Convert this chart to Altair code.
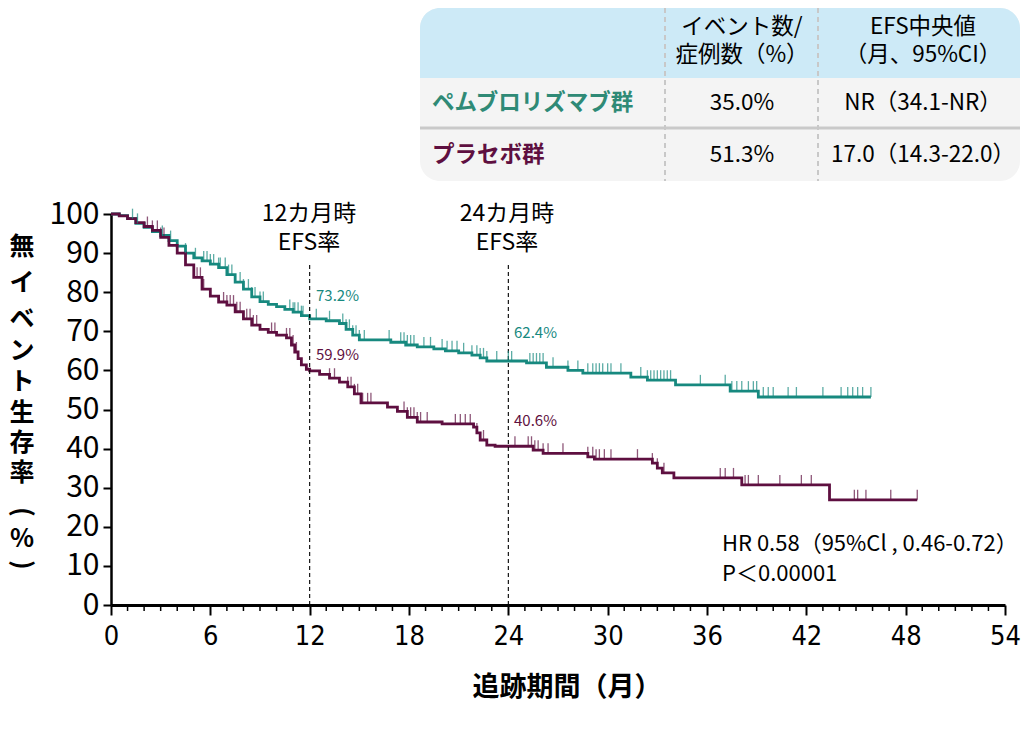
import bisect
import altair as alt
import pandas as pd

# ---------------- data ----------------
groups = ["ペムブロリズマブ群", "プラセボ群"]

pem_t = [0, 0.5, 1.0, 1.5, 2.0, 2.5, 3.0, 3.5, 4.0, 4.5, 5.0, 5.5, 6.0, 6.5, 7.0, 7.5,
         8.0, 8.5, 9.0, 9.5, 10.0, 10.5, 11.0, 11.5, 12.0, 13.0, 13.8, 14.2, 14.6, 15.0,
         16.9, 17.8, 18.5, 19.5, 20.2, 21.0, 21.8, 22.3, 22.7, 25.1, 26.3, 27.6, 28.5,
         31.4, 32.4, 34.1, 37.4, 39.1]
pem_s = [100, 99.6, 98.8, 97.6, 96.6, 95.5, 94.5, 93.2, 91.8, 90.0, 88.8, 88.0, 87.2,
         86.3, 84.5, 82.6, 80.8, 78.8, 77.6, 76.9, 76.3, 75.6, 74.9, 74.0, 73.2, 72.7,
         72.0, 70.5, 69.0, 67.8, 67.2, 66.5, 66.0, 65.5, 65.0, 64.5, 63.9, 63.2, 62.4,
         61.9, 60.8, 60.0, 59.3, 58.3, 57.5, 56.3, 54.7, 53.2]
pem_end = 45.9
pem_cens = [1.3, 1.6, 3.1, 3.6, 4.5, 5.1, 5.6, 5.8, 6.0, 6.2, 6.5, 6.6, 6.9, 7.1, 7.3,
            7.8, 8.0, 8.3, 8.5, 8.7, 9.0, 9.2, 10.8, 11.0, 11.1, 11.3, 11.5, 11.6, 12.4,
            13.2, 14.0, 14.2, 14.4, 14.6, 14.8, 15.0, 15.3, 16.8, 17.5, 17.7, 17.9, 18.1,
            18.3, 18.9, 19.3, 20.0, 20.3, 20.6, 20.9, 21.3, 21.8, 22.1, 22.3, 22.5, 22.7,
            23.3, 24.0, 24.2, 25.3, 25.5, 25.7, 25.9, 26.1, 26.7, 27.6, 28.2, 28.8, 29.1,
            29.3, 29.5, 29.7, 30.0, 30.2, 30.8, 32.0, 32.4, 32.6, 32.8, 33.0, 33.2, 33.4,
            33.6, 33.8, 35.6, 37.1, 37.5, 37.8, 38.1, 38.5, 38.8, 39.0, 39.4, 39.7, 40.0,
            40.9, 41.4, 43.0, 44.1, 44.5, 44.8, 45.1, 45.4, 45.9]

pla_t = [0, 0.5, 1.0, 1.5, 2.0, 2.5, 3.0, 3.5, 4.0, 4.5, 5.0, 5.5, 6.0, 6.5, 7.0, 7.5,
         8.0, 8.5, 9.0, 9.5, 10.0, 10.6, 10.9, 11.1, 11.3, 11.5, 11.8, 12.0, 12.6, 13.2,
         13.8, 14.3, 14.7, 15.1, 16.7, 17.3, 17.9, 18.5, 20.0, 21.9, 22.1, 22.3, 22.7,
         23.2, 25.5, 26.1, 28.8, 29.2, 32.7, 33.0, 33.3, 34.0, 38.1, 43.4]
pla_s = [100, 99.5, 98.8, 97.8, 96.8, 95.8, 94.0, 92.0, 90.0, 87.0, 83.8, 80.8, 79.0,
         77.5, 76.7, 75.0, 73.2, 71.6, 70.5, 69.7, 69.0, 68.3, 66.5, 64.7, 63.0, 61.4,
         60.3, 59.9, 59.0, 58.0, 57.0, 55.8, 54.0, 51.7, 50.6, 49.5, 48.0, 46.8, 46.3,
         45.5, 44.0, 42.2, 40.9, 40.6, 39.6, 38.8, 37.9, 37.3, 36.3, 35.0, 33.8, 32.5,
         30.7, 26.9]
pla_end = 48.7
pla_cens = [2.2, 2.5, 2.8, 3.0, 3.2, 5.2, 5.4, 5.6, 6.8, 7.0, 7.2, 7.4, 7.6, 7.8, 8.2,
            8.4, 8.6, 8.8, 9.7, 9.9, 10.6, 10.8, 11.0, 11.2, 13.2, 13.5, 14.3, 14.5, 14.7,
            14.9, 15.2, 15.5, 15.7, 17.7, 17.9, 18.1, 18.3, 18.5, 18.7, 19.1, 20.8, 21.1,
            21.4, 21.7, 22.1, 22.5, 24.4, 25.2, 25.4, 25.6, 25.8, 26.1, 26.4, 27.3, 28.8,
            29.1, 29.3, 29.5, 29.8, 30.2, 31.8, 32.7, 33.0, 33.4, 36.8, 37.1, 37.6, 38.3,
            38.5, 39.1, 40.4, 41.7, 42.3, 44.9, 45.1, 45.6, 47.1, 48.7]

landmark_t = [12, 24]
landmark_top = 87.5

x_major = [0, 6, 12, 18, 24, 30, 36, 42, 48, 54]
x_minor = [m for m in range(0, 55) if m % 6 != 0]
y_ticks = [0, 10, 20, 30, 40, 50, 60, 70, 80, 90, 100]

y_title_chars = ["無", "イ", "ベ", "ン", "ト", "生", "存", "率"]
y_title_paren = ["(", "%", ")"]
table_header = [["イベント数/", "症例数（%）"], ["EFS中央値", "（月、95%CI）"]]
table_events = ["35.0%", "51.3%"]
table_median = ["NR（34.1-NR）", "17.0（14.3-22.0）"]

# ---------------- helpers ----------------
TEAL = "#17897f"
PURPLE = "#5e0f40"
TEAL_TXT = "#2f8a76"
FONT = "Noto Sans CJK JP"
NARROW = "DejaVu Sans Condensed, Liberation Sans Narrow, Noto Sans CJK JP, sans-serif"


def step_value(ts, ss, t):
    return ss[bisect.bisect_right(ts, t) - 1]


rows = []
for g, ts, ss, end in [(groups[0], pem_t, pem_s, pem_end), (groups[1], pla_t, pla_s, pla_end)]:
    for t, s in zip(ts, ss):
        rows.append({"t": t, "s": s, "g": g})
    rows.append({"t": end, "s": ss[-1], "g": g})
curve_df = pd.DataFrame(rows)

crow = []
for g, ts, ss, cens in [(groups[0], pem_t, pem_s, pem_cens), (groups[1], pla_t, pla_s, pla_cens)]:
    for t in cens:
        crow.append({"t": t, "s": step_value(ts, ss, t), "g": g})
cens_df = pd.DataFrame(crow)

one = pd.DataFrame({"k": [0]})

xs = alt.Scale(domain=[0, 54], nice=False, zero=False)
ys = alt.Scale(domain=[0, 100], nice=False, zero=False)
col = alt.Scale(domain=groups, range=[TEAL, PURPLE])

AX = alt.Axis(
    values=x_major, title=None, grid=False, tickSize=10, tickWidth=2,
    domainWidth=2.8, domainColor="black", tickColor="black",
    labelFont=NARROW, labelFontSize=27, labelColor="black",
    labelPadding=8, labelFlush=False, labelOverlap=False)
AY = alt.Axis(
    values=y_ticks, title=None, grid=False, tickSize=8, tickWidth=2,
    domainWidth=2.5, domainColor="black", tickColor="black",
    labelFont=FONT, labelFontSize=30, labelColor="black", labelPadding=4,
    labelOverlap=False, labelBound=False, labelFlush=False)


def px(page_x):
    return page_x - 111


def py(page_y):
    return page_y - 214


def txt(text, x, y, size=20, color="black", align="center", weight="normal", font=FONT, **kw):
    return alt.Chart(one).mark_text(
        text=text, align=align, baseline="middle", fontSize=size, color=color,
        fontWeight=weight, font=font, **kw
    ).encode(x=alt.value(x), y=alt.value(y))


# ---------------- plot ----------------
lines = alt.Chart(curve_df).mark_line(interpolate="step-after", strokeWidth=2.8).encode(
    x=alt.X("t:Q", scale=xs, axis=AX),
    y=alt.Y("s:Q", scale=ys, axis=AY),
    color=alt.Color("g:N", scale=col, legend=None),
    order="t:Q",
)

ticks = alt.Chart(cens_df).mark_tick(orient="vertical", size=10, thickness=1.3, yOffset=-5).encode(
    x=alt.X("t:Q", scale=xs, axis=AX),
    y=alt.Y("s:Q", scale=ys, axis=AY),
    color=alt.Color("g:N", scale=col, legend=None),
)

minor = alt.Chart(pd.DataFrame({"m": x_minor})).mark_rule(color="black", strokeWidth=1.5).encode(
    x=alt.X("m:Q", scale=xs, axis=AX),
    y=alt.value(391),
    y2=alt.value(397),
)

landmarks = alt.Chart(pd.DataFrame({"t": landmark_t, "top": [landmark_top] * 2, "bot": [0, 0]})).mark_rule(
    color="black", strokeWidth=1.1, strokeDash=[4, 3]
).encode(
    x=alt.X("t:Q", scale=xs, axis=AX),
    y=alt.Y("bot:Q", scale=ys, axis=AY),
    y2="top:Q",
)

ann = []
# landmark captions
for lt, cx in [(12, px(309)), (24, px(507))]:
    ann.append(txt(f"{lt}カ月時", cx, py(214), size=23))
    ann.append(txt("EFS率", cx, py(243), size=23))
# percentages
ann.append(txt("73.2%", px(316), py(296), size=15, color=TEAL, align="left"))
ann.append(txt("59.9%", px(316), py(355), size=15, color=PURPLE, align="left"))
ann.append(txt("62.4%", px(514), py(333), size=15, color=TEAL, align="left"))
ann.append(txt("40.6%", px(514), py(421), size=15, color=PURPLE, align="left"))
# HR
ann.append(txt("HR 0.58（95%Cl , 0.46-0.72）", px(722), py(544), size=22, align="left"))
ann.append(txt("P＜0.00001", px(722), py(574), size=22, align="left"))

# vertical y-axis title, one glyph per row
y_title_pos = [247, 283, 319, 351, 382, 413, 443, 473]
for ch, yy in zip(y_title_chars, y_title_pos):
    ann.append(txt(ch, px(22), py(yy), size=25, weight="bold"))
ann.append(txt(y_title_paren[0], px(22), py(512), size=25, weight="bold", angle=90))
ann.append(txt(y_title_paren[1], px(22), py(539), size=25, weight="bold"))
ann.append(txt(y_title_paren[2], px(22), py(565), size=25, weight="bold", angle=90))
ann.append(txt("追跡期間（月）", px(567), py(688), size=27, weight="bold"))

# ---------------- table ----------------
TX0, TX1 = px(420), px(1020)
TY0, TY1 = py(8), py(181)
table = []
table.append(alt.Chart(one).mark_rect(color="#f4f4f4", cornerRadius=20).encode(
    x=alt.value(TX0), x2=alt.value(TX1), y=alt.value(TY0), y2=alt.value(TY1)))
table.append(alt.Chart(one).mark_rect(color="#cdeaf7", cornerRadiusTopLeft=20,
                                      cornerRadiusTopRight=20).encode(
    x=alt.value(TX0), x2=alt.value(TX1), y=alt.value(TY0), y2=alt.value(py(78))))
table.append(alt.Chart(one).mark_rule(color="#c9c9c9", strokeWidth=3).encode(
    x=alt.value(TX0), x2=alt.value(TX1), y=alt.value(py(128))))
for vx in [px(665), px(818)]:
    table.append(alt.Chart(one).mark_rule(color="#c8c8c8", strokeWidth=2, strokeDash=[5, 4]).encode(
        x=alt.value(vx), y=alt.value(TY0), y2=alt.value(TY1)))

c2, c3 = px(742), px(923)
TS = 22.5
table.append(txt(table_header[0][0], c2, py(27), size=TS))
table.append(txt(table_header[0][1], c2, py(55), size=TS))
table.append(txt(table_header[1][0], c3, py(27), size=TS))
table.append(txt(table_header[1][1], c3, py(55), size=TS))
table.append(txt(groups[0], px(432), py(103), size=TS, color=TEAL_TXT, align="left", weight="bold"))
table.append(txt(groups[1], px(432), py(155), size=TS, color=PURPLE, align="left", weight="bold"))
table.append(txt(table_events[0], c2, py(103), size=TS))
table.append(txt(table_events[1], c2, py(155), size=TS))
table.append(txt(table_median[0], c3, py(103), size=TS))
table.append(txt(table_median[1], c3, py(155), size=TS))

chart = alt.layer(
    lines, *table, landmarks, minor, ticks, *ann
).properties(
    width=894, height=391,
    padding={"left": 103, "top": 206, "right": 16, "bottom": 110},
    autosize=alt.AutoSizeParams(type="none"),
).configure(font=FONT, view=alt.ViewConfig(stroke=None))

chart.save("out.html", embed_options={"renderer": "svg", "actions": False})
